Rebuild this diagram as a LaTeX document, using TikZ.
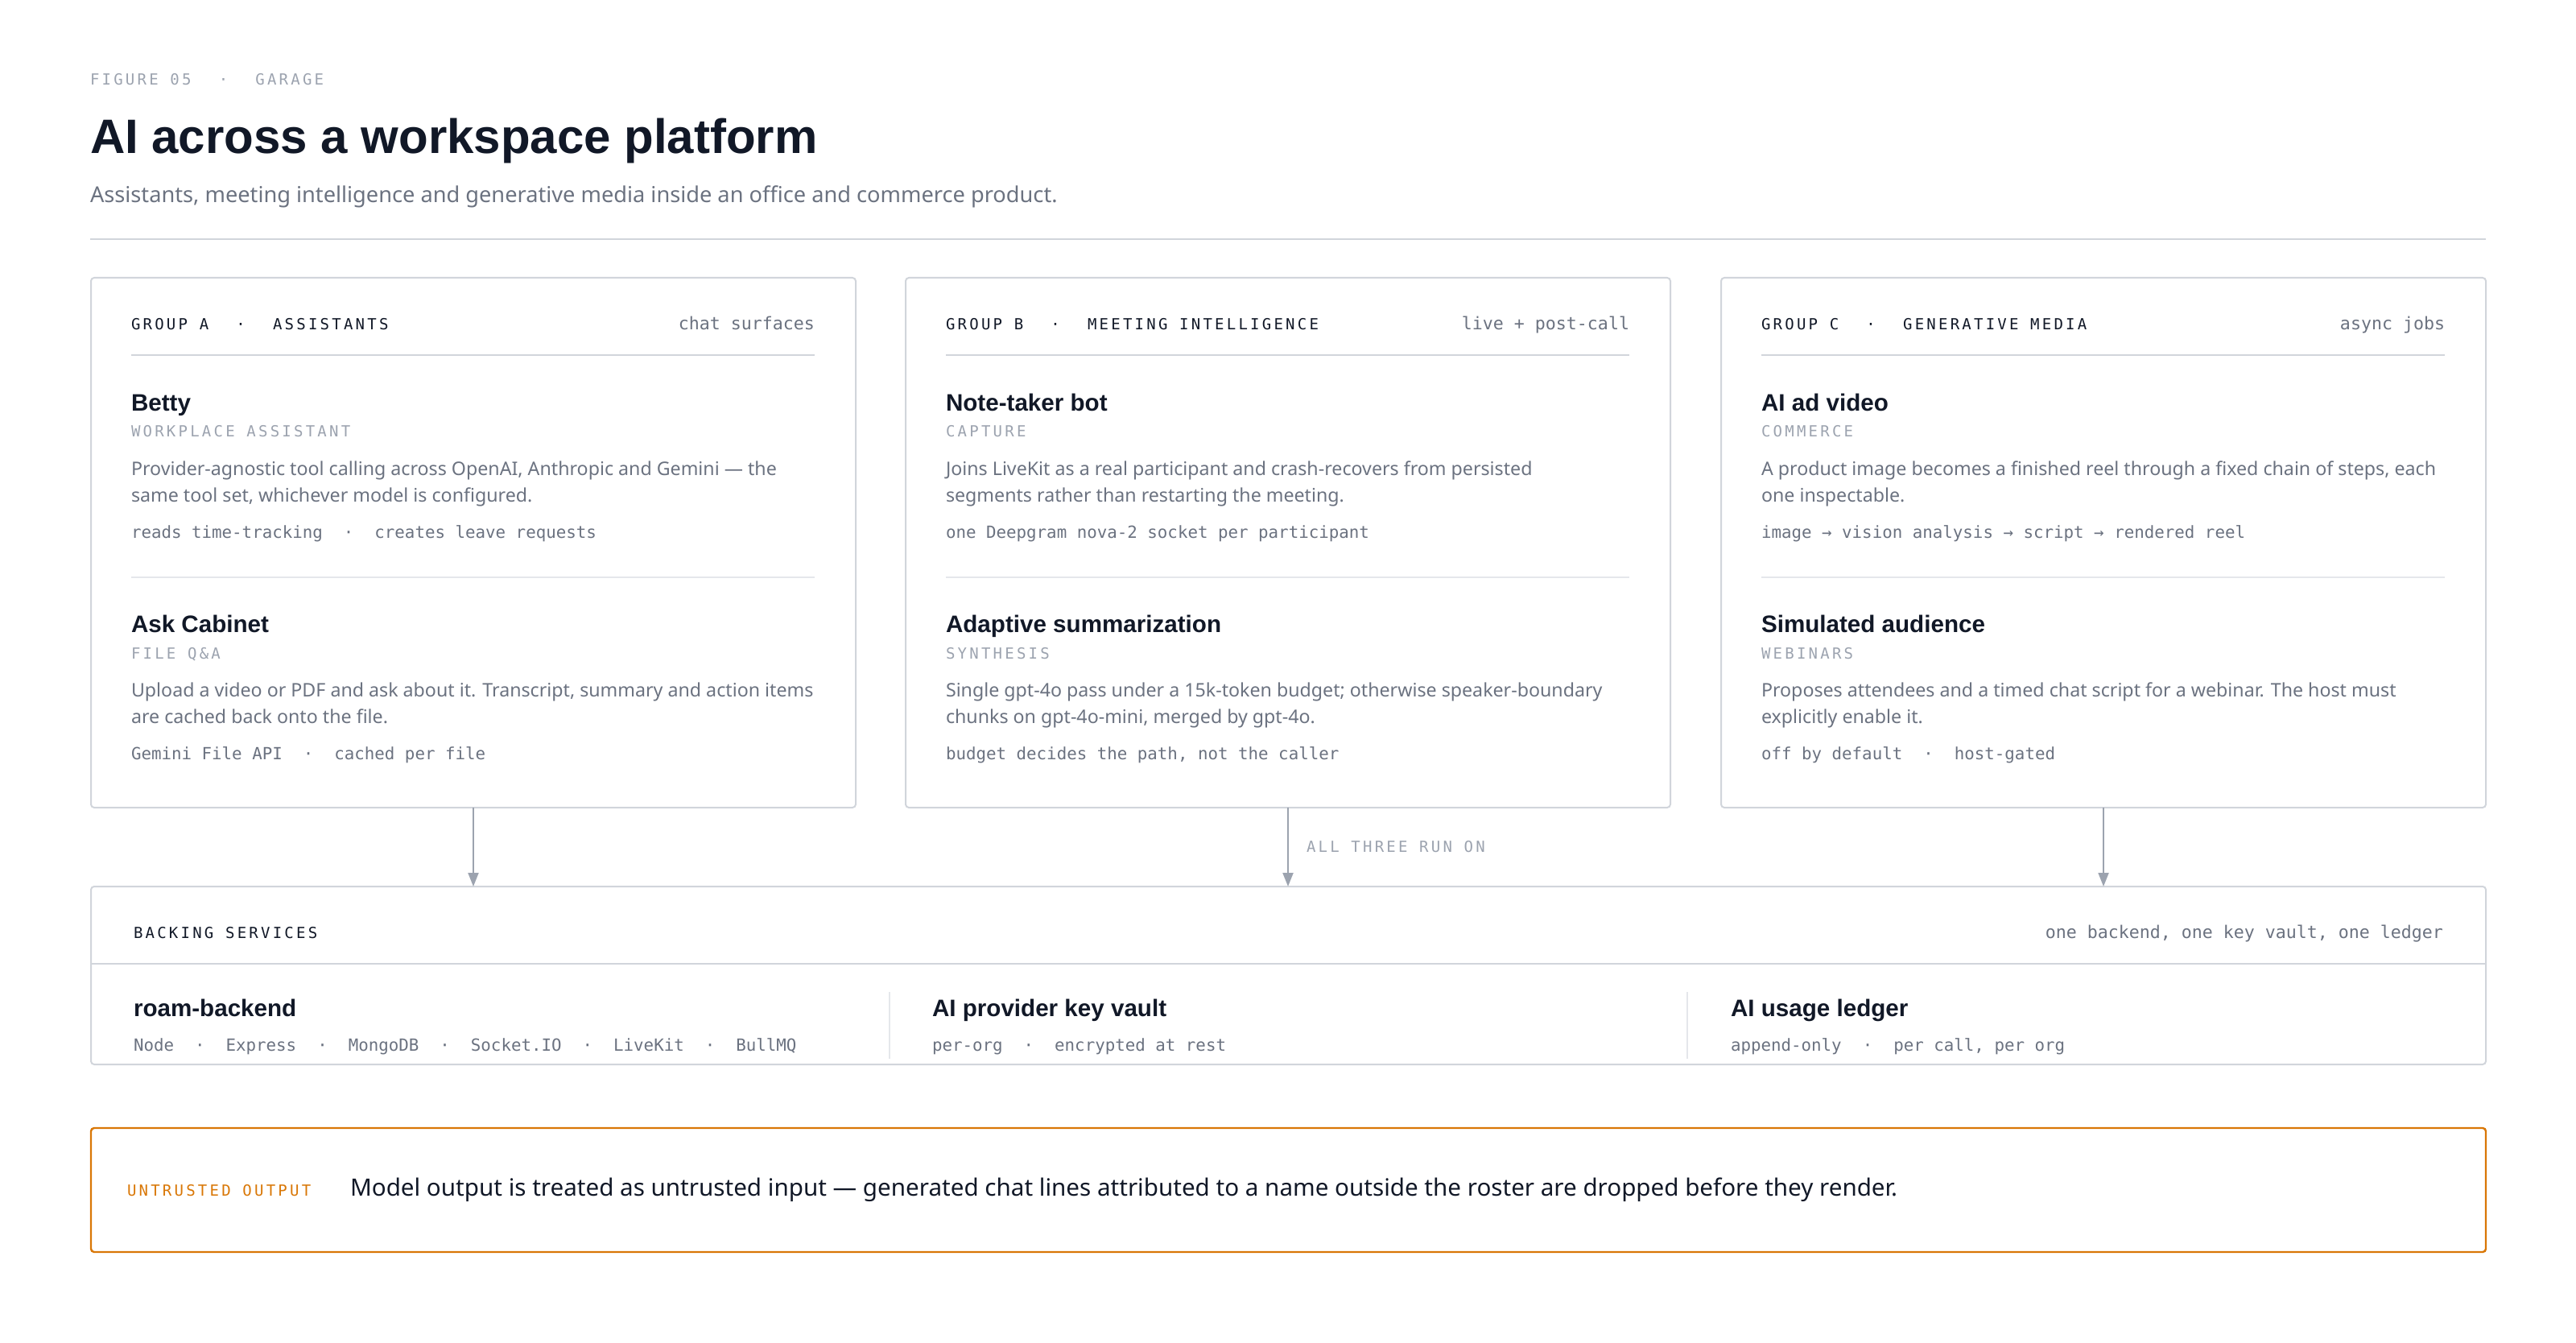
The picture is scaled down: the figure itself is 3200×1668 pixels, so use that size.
\documentclass[tikz,border=0pt]{standalone}
\usepackage{fontspec}
\setmainfont{Noto Sans}
\newfontfamily\headFont{Liberation Sans}
\newfontfamily\monoFont{DejaVu Sans Mono}
\newfontfamily\capsFont[LetterSpace=17]{DejaVu Sans Mono}
\usetikzlibrary{arrows.meta,fit}
\definecolor{ink}{HTML}{111827}
\definecolor{body}{HTML}{6B7280}
\definecolor{muted}{HTML}{9CA3AF}
\definecolor{edge}{HTML}{D1D5DB}
\definecolor{hair}{HTML}{E5E7EB}
\definecolor{warn}{HTML}{D97706}
\newcommand{\midDot}[0]{\hspace{1.25em}·\hspace{1.25em}}
\newcommand{\capsDot}[0]{\hspace{1.8em}·\hspace{1.8em}}

% a group card with its header row (#1 name, #2 left edge, #3 header, #4 right note)
\newcommand{\groupCard}[4]{
  \node[card, fit={(#2,345) (#2+950,1003)}] (#1) {};
  \node[grouphead] (#1-head) at (#2+50,410) {#3};
  \node[note] (#1-note) at (#2+899,410) {#4};
  \draw[rule] (#2+50,441) -- (#2+899,441);
  \draw[hairline] (#2+50,717) -- (#2+899,717);
}
% one feature inside a card (#2,#3 = baseline of its title)
\newcommand{\cardItem}[7]{
  \node[itemtitle] (#1) at (#2,#3) {#4};
  \node[kicker] (#1-kind) at (#2,#3+33) {#5};
  \node[desc] (#1-desc) at (#2,#3+80) {\begin{tabular}[t]{@{}l@{}}#6\end{tabular}};
  \node[tags] (#1-tags) at (#2,#3+158) {#7};
}

\begin{document}
\begin{tikzpicture}[x=0.5pt,y=-0.5pt]
  \tikzset{
    txt/.style={inner sep=0pt,outer sep=0pt,anchor=base west},
    caps/.style={txt,font=\capsFont\fontsize{9.5}{11}\selectfont},
    figlabel/.style={caps,text=muted},
    grouphead/.style={caps,text=ink},
    kicker/.style={caps,text=muted},
    note/.style={txt,anchor=base east,font=\monoFont\fontsize{10.8}{12}\selectfont,text=body},
    tags/.style={txt,font=\monoFont\fontsize{10.4}{12}\selectfont,text=body},
    itemtitle/.style={txt,font=\headFont\bfseries\fontsize{14.8}{17}\selectfont,text=ink},
    desc/.style={txt,font=\fontsize{11.6}{16.7}\selectfont,text=body},
    card/.style={draw=edge,line width=1pt,rounded corners=2pt,inner sep=0pt,outer sep=0pt},
    rule/.style={draw=edge,line width=1pt},
    hairline/.style={draw=hair,line width=1pt},
    flow/.style={draw=muted,line width=1pt,-{Triangle[length=8.5pt,width=6.5pt]}}
  }
  \fill[white] (0,0) rectangle (3200,1668);
  \useasboundingbox (0,0) rectangle (3200,1668);

  % heading
  \node[figlabel] (fig) at (112,106) {FIGURE 05\capsDot GARAGE};
  \node[txt,font=\headFont\bfseries\fontsize{30}{34}\selectfont,text=ink] (title) at (112,191) {AI across a workspace platform};
  \node[txt,font=\fontsize{13.6}{16}\selectfont,text=body] (subtitle) at (112,252)
    {Assistants, meeting intelligence and generative media inside an office and commerce product.};
  \draw[rule] (112,297) -- (3088,297);

  % the three groups
  \groupCard{grpA}{113}{GROUP A\capsDot ASSISTANTS}{chat surfaces}
  \cardItem{betty}{163}{510}{Betty}{WORKPLACE ASSISTANT}
    {Provider-agnostic tool calling across OpenAI, Anthropic and Gemini — the\\same tool set, whichever model is configured.}
    {reads time-tracking\midDot creates leave requests}
  \cardItem{cabinet}{163}{785}{Ask Cabinet}{FILE Q\&A}
    {Upload a video or PDF and ask about it. Transcript, summary and action items\\are cached back onto the file.}
    {Gemini File API\midDot cached per file}

  \groupCard{grpB}{1125}{GROUP B\capsDot MEETING INTELLIGENCE}{live + post-call}
  \cardItem{notetaker}{1175}{510}{Note-taker bot}{CAPTURE}
    {Joins LiveKit as a real participant and crash-recovers from persisted\\segments rather than restarting the meeting.}
    {one Deepgram nova-2 socket per participant}
  \cardItem{summary}{1175}{785}{Adaptive summarization}{SYNTHESIS}
    {Single gpt-4o pass under a 15k-token budget; otherwise speaker-boundary\\chunks on gpt-4o-mini, merged by gpt-4o.}
    {budget decides the path, not the caller}

  \groupCard{grpC}{2138}{GROUP C\capsDot GENERATIVE MEDIA}{async jobs}
  \cardItem{advideo}{2188}{510}{AI ad video}{COMMERCE}
    {A product image becomes a finished reel through a fixed chain of steps, each\\one inspectable.}
    {image → vision analysis → script → rendered reel}
  \cardItem{audience}{2188}{785}{Simulated audience}{WEBINARS}
    {Proposes attendees and a timed chat script for a webinar. The host must\\explicitly enable it.}
    {off by default\midDot host-gated}

  % backing services
  \node[card, fit={(113,1101) (3088,1322)}] (backing) {};
  \node[grouphead] (backing-head) at (166,1165) {BACKING SERVICES};
  \node[note] (backing-note) at (3035,1165) {one backend, one key vault, one ledger};
  \draw[rule] (113,1197) -- (3088,1197);
  \draw[hairline] (1105,1232) -- (1105,1315);
  \draw[hairline] (2096,1232) -- (2096,1315);
  \node[itemtitle] (roam) at (166,1262) {roam-backend};
  \node[tags] (roam-tags) at (166,1305) {Node\midDot Express\midDot MongoDB\midDot Socket.IO\midDot LiveKit\midDot BullMQ};
  \node[itemtitle] (vault) at (1158,1262) {AI provider key vault};
  \node[tags] (vault-tags) at (1158,1305) {per-org\midDot encrypted at rest};
  \node[itemtitle] (ledger) at (2150,1262) {AI usage ledger};
  \node[tags] (ledger-tags) at (2150,1305) {append-only\midDot per call, per org};

  % every group runs on the backing services
  \draw[flow] (grpA.south) -- (grpA.south |- backing.north);
  \draw[flow] (grpB.south) -- (grpB.south |- backing.north);
  \draw[flow] (grpC.south) -- (grpC.south |- backing.north);
  \node[kicker] (runon) at (1623,1058) {ALL THREE RUN ON};

  % untrusted output note
  \node[card, draw=warn, line width=1.2pt, fit={(113,1401) (3088,1555)}] (untrusted) {};
  \node[caps,text=warn] (untrusted-head) at (158,1485) {UNTRUSTED OUTPUT};
  \node[txt,font=\fontsize{14.8}{17}\selectfont,text=ink] (untrusted-text) at (435,1485)
    {Model output is treated as untrusted input — generated chat lines attributed to a name outside the roster are dropped before they render.};
\end{tikzpicture}
\end{document}
